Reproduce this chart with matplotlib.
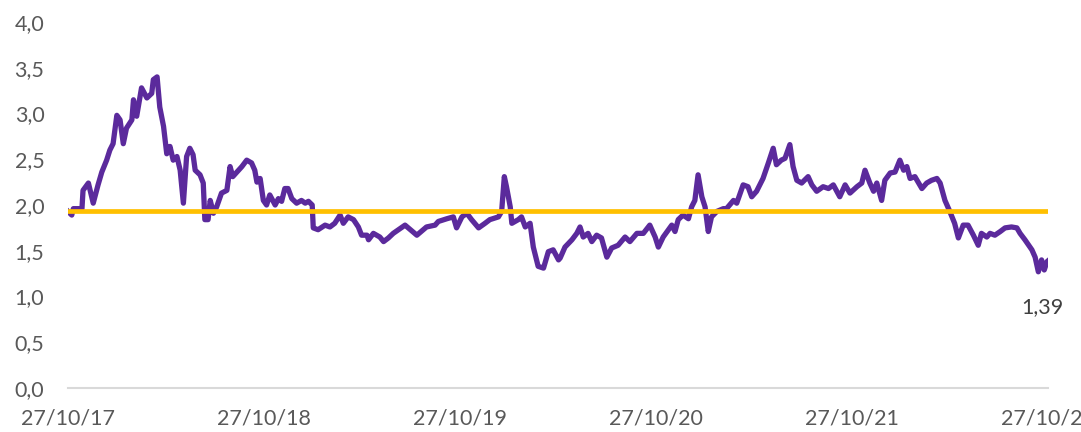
import matplotlib.pyplot as plt
import matplotlib.dates as mdates
import numpy as np
import pandas as pd

# series: days since 27/10/17 and value
start = pd.Timestamp("2017-10-27")
days = [0, 7, 10, 26, 28, 38, 47, 56, 63, 72, 78, 84, 91, 97, 103, 109, 119, 122,
        128, 137, 147, 156, 159, 166, 171, 178, 184, 190, 196, 203, 209, 215, 221,
        227, 233, 237, 246, 252, 255, 261, 265, 271, 277, 286, 296, 302, 307, 324,
        333, 342, 348, 352, 358, 364, 370, 376, 386, 392, 398, 404, 410, 417, 426,
        435, 442, 448, 455, 457, 466, 479, 488, 497, 507, 513, 522, 532, 541, 547,
        557, 560, 569, 581, 588, 597, 606, 628, 650, 668, 684, 690, 706, 718, 724,
        734, 743, 752, 765, 777, 786, 802, 808, 813, 817, 824, 827, 839, 845, 852,
        861, 867, 876, 886, 895, 904, 914, 917, 926, 939, 948, 954, 960, 969, 976,
        985, 994, 1004, 1013, 1025, 1038, 1047, 1060, 1072, 1084, 1094, 1100, 1109,
        1119, 1125, 1131, 1137, 1146, 1156, 1162, 1168, 1174, 1181, 1187, 1193,
        1199, 1209, 1221, 1227, 1240, 1246, 1258, 1267, 1274, 1283, 1295, 1305,
        1314, 1320, 1329, 1336, 1345, 1351, 1358, 1367, 1379, 1386, 1395, 1407,
        1417, 1426, 1438, 1448, 1457, 1470, 1479, 1485, 1494, 1501, 1507, 1516,
        1522, 1532, 1541, 1550, 1557, 1563, 1569, 1578, 1591, 1600, 1609, 1619,
        1625, 1634, 1643, 1652, 1659, 1668, 1677, 1687, 1696, 1702, 1712, 1718,
        1727, 1737, 1746, 1758, 1768, 1774, 1783, 1796, 1802, 1808, 1814, 1819,
        1824, 1826]
values = [1.93, 1.89, 1.96, 1.96, 2.16, 2.24, 2.02, 2.22, 2.36, 2.49, 2.60, 2.67, 2.98,
          2.93, 2.67, 2.84, 2.93, 3.15, 2.97, 3.28, 3.17, 3.22, 3.37, 3.40, 3.07, 2.86,
          2.56, 2.64, 2.49, 2.53, 2.38, 2.02, 2.53, 2.62, 2.55, 2.38, 2.33, 2.24, 1.84,
          1.84, 2.05, 1.91, 1.98, 2.13, 2.16, 2.42, 2.31, 2.42, 2.49, 2.46, 2.38, 2.25,
          2.29, 2.05, 2.00, 2.11, 2.00, 2.07, 2.04, 2.18, 2.18, 2.07, 2.02, 2.05, 2.02,
          2.04, 2.00, 1.75, 1.73, 1.78, 1.76, 1.80, 1.89, 1.80, 1.87, 1.84, 1.76, 1.67,
          1.67, 1.62, 1.69, 1.65, 1.60, 1.64, 1.69, 1.78, 1.67, 1.76, 1.78, 1.82, 1.85,
          1.87, 1.75, 1.87, 1.91, 1.84, 1.75, 1.80, 1.84, 1.87, 1.93, 2.31, 2.20, 1.98,
          1.80, 1.84, 1.87, 1.76, 1.80, 1.54, 1.33, 1.31, 1.49, 1.51, 1.40, 1.42, 1.54,
          1.62, 1.69, 1.76, 1.65, 1.69, 1.60, 1.67, 1.64, 1.43, 1.53, 1.56, 1.65, 1.60,
          1.69, 1.69, 1.78, 1.65, 1.54, 1.65, 1.73, 1.78, 1.71, 1.84, 1.89, 1.85, 1.98,
          2.05, 2.33, 2.09, 1.98, 1.71, 1.87, 1.93, 1.96, 1.96, 2.05, 2.02, 2.22, 2.20,
          2.09, 2.15, 2.29, 2.46, 2.62, 2.44, 2.49, 2.51, 2.66, 2.42, 2.27, 2.24, 2.31,
          2.22, 2.15, 2.20, 2.18, 2.22, 2.09, 2.22, 2.13, 2.20, 2.24, 2.38, 2.24, 2.15,
          2.24, 2.05, 2.27, 2.35, 2.36, 2.49, 2.38, 2.42, 2.29, 2.31, 2.18, 2.24, 2.27,
          2.29, 2.24, 2.05, 1.93, 1.80, 1.64, 1.78, 1.78, 1.67, 1.56, 1.69, 1.65, 1.69,
          1.67, 1.71, 1.75, 1.76, 1.75, 1.69, 1.62, 1.51, 1.43, 1.27, 1.40, 1.29, 1.38,
          1.39]
average = 1.93
last_label = "1,39"
tick_dates = ["2017-10-27", "2018-10-27", "2019-10-27", "2020-10-27",
              "2021-10-27", "2022-10-27"]

dates = start + pd.to_timedelta(days, unit="D")

plt.rcParams['font.family'] = ['Lato', 'DejaVu Sans']

fig = plt.figure(figsize=(10.81, 4.32), dpi=100)
ax = fig.add_axes([68 / 1081, 44 / 432, 980 / 1081, 366 / 432])

ax.plot(dates, values, color='#5B2A9C', linewidth=3.8, solid_joinstyle='round', zorder=2)
ax.plot([dates[0], dates[-1]], [average, average], color='#FFC000', linewidth=3.4,
        solid_capstyle='round', zorder=3)

ax.annotate(last_label, (dates[-1], values[-1]), xytext=(-4, -33),
            textcoords='offset points', ha='center', va='center',
            fontsize=15.5, color='#404040')

ax.set_ylim(0, 4)
ax.set_yticks(np.arange(0, 4.01, 0.5))
ax.yaxis.set_major_formatter(plt.FuncFormatter(lambda v, p: f"{v:.1f}".replace('.', ',')))

ticks = pd.to_datetime(tick_dates)
ax.set_xlim(ticks[0], ticks[-1])
ax.set_xticks(ticks)
ax.xaxis.set_major_formatter(mdates.DateFormatter('%d/%m/%y'))

for s in ['top', 'right', 'left']:
    ax.spines[s].set_visible(False)
ax.spines['bottom'].set_color('#D9D9D9')
ax.spines['bottom'].set_linewidth(1.5)
ax.tick_params(axis='both', length=0, labelsize=15.5, colors='#595959')
ax.tick_params(axis='y', pad=17)
ax.tick_params(axis='x', pad=15)
ax.patch.set_alpha(0)
for lbl in ax.get_xticklabels() + ax.get_yticklabels():
    lbl.set_clip_on(False)

fig.savefig('out.png', dpi=100)
